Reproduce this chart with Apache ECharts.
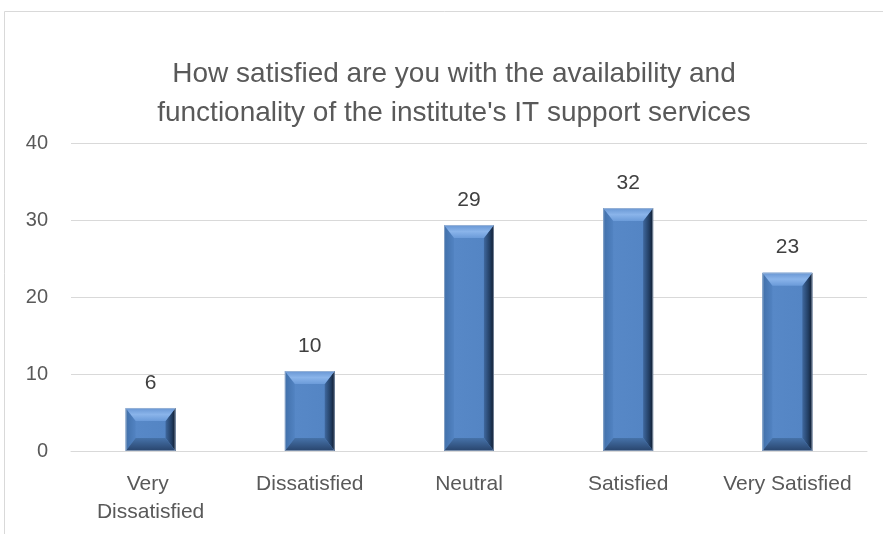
<!DOCTYPE html>
<html>
<head>
<meta charset="utf-8">
<script src="https://cdn.jsdelivr.net/npm/echarts@6/dist/echarts.min.js"></script>
<style>html,body{margin:0;padding:0;background:#fff}#c{width:883px;height:534px}</style>
</head>
<body>
<div id="c"></div>
<script>
const categories = ['Very Dissatisfied', 'Dissatisfied', 'Neutral', 'Satisfied', 'Very Satisfied'];
const values = [5.6, 10.4, 29.4, 31.6, 23.2];
const titleLines = ['How satisfied are you with the availability and', "functionality of the institute's IT support services"];
const yTicks = [0, 10, 20, 30, 40];

const FONT = '"Liberation Sans", Arial, sans-serif';
const chart = echarts.init(document.getElementById('c'));

function renderBar(params, api) {
  const cat = api.value(0);
  const top = api.coord([cat, api.value(1)]);
  const base = api.coord([cat, 0]);
  const band = api.size([1, 0])[0];
  const w = band * 0.313;
  const x0 = top[0] - w / 2, x1 = top[0] + w / 2;
  const y0 = top[1], y1 = base[1];
  const h = y1 - y0;
  const bt = Math.min(13, h / 2), bs = Math.min(10, w / 2);
  const children = [
    { type: 'rect', shape: { x: x0, y: y0, width: w, height: h },
      style: { fill: new echarts.graphic.LinearGradient(0, 0, 1, 0, [{ offset: 0, color: '#5889c8' }, { offset: 1, color: '#5384c3' }]) } },
    // left bevel
    { type: 'polygon', shape: { points: [[x0, y0], [x0 + bs, y0 + bt], [x0 + bs, y1 - bt], [x0, y1]] },
      style: { fill: new echarts.graphic.LinearGradient(0, 0, 1, 0, [{ offset: 0, color: '#4170aa' }, { offset: 1, color: '#5283c2' }]) } },
    // right bevel
    { type: 'polygon', shape: { points: [[x1, y0], [x1 - bs, y0 + bt], [x1 - bs, y1 - bt], [x1, y1]] },
      style: { fill: new echarts.graphic.LinearGradient(0, 0, 1, 0, [{ offset: 0, color: '#3f689e' }, { offset: 0.6, color: '#223e63' }, { offset: 1, color: '#0e1a2c' }]) } },
    // top bevel
    { type: 'polygon', shape: { points: [[x0, y0], [x1, y0], [x1 - bs, y0 + bt], [x0 + bs, y0 + bt]] },
      style: { fill: new echarts.graphic.LinearGradient(0, 0, 0, 1, [{ offset: 0, color: '#6896d3' }, { offset: 0.5, color: '#8ab4ea' }, { offset: 1, color: '#6b9bd9' }]) } },
    // bottom bevel
    { type: 'polygon', shape: { points: [[x0, y1], [x1, y1], [x1 - bs, y1 - bt], [x0 + bs, y1 - bt]] },
      style: { fill: new echarts.graphic.LinearGradient(0, 0, 0, 1, [{ offset: 0, color: '#4672a9' }, { offset: 1, color: '#28446c' }]) } },
    { type: 'rect', shape: { x: x0 + 0.5, y: y0 + 0.5, width: w - 1, height: h - 1 },
      style: { fill: null, stroke: 'rgba(180,195,215,0.6)', lineWidth: 1 } },
    { type: 'text', x: top[0], y: y0 - 25,
      style: { text: String(Math.round(api.value(1))), fill: '#404040', font: '21px ' + FONT, align: 'center', verticalAlign: 'middle' } }
  ];
  return { type: 'group', children: children };
}

chart.setOption({
  animation: false,
  backgroundColor: '#ffffff',
  graphic: [
    { type: 'rect', shape: { x: 4.5, y: 11.5, width: 1000, height: 700 }, style: { fill: null, stroke: '#d9d9d9', lineWidth: 1 }, z: -10 },
    { type: 'text', x: 454, y: 74, style: { text: titleLines[0], fill: '#595959', font: '28px ' + FONT, align: 'center', verticalAlign: 'middle' } },
    { type: 'text', x: 454, y: 113, style: { text: titleLines[1], fill: '#595959', font: '28px ' + FONT, align: 'center', verticalAlign: 'middle' } }
  ],
  grid: { left: 71, right: 16, top: 143.5, bottom: 83, containLabel: false },
  xAxis: {
    type: 'category',
    data: categories,
    axisLine: { show: true, lineStyle: { color: '#d9d9d9', width: 1 } },
    axisTick: { show: false },
    axisLabel: { color: '#595959', fontSize: 21, fontFamily: FONT, margin: 19, lineHeight: 28, width: 140, overflow: 'break', interval: 0 }
  },
  yAxis: {
    type: 'value',
    min: yTicks[0], max: yTicks[yTicks.length - 1], interval: 10,
    axisLine: { show: false },
    axisTick: { show: false },
    splitLine: { lineStyle: { color: '#d9d9d9', width: 1 } },
    axisLabel: { color: '#595959', fontSize: 20, fontFamily: FONT, margin: 23 }
  },
  series: [{
    type: 'custom',
    renderItem: renderBar,
    encode: { x: 0, y: 1 },
    data: values.map((v, i) => [i, v])
  }]
});
</script>
</body>
</html>
